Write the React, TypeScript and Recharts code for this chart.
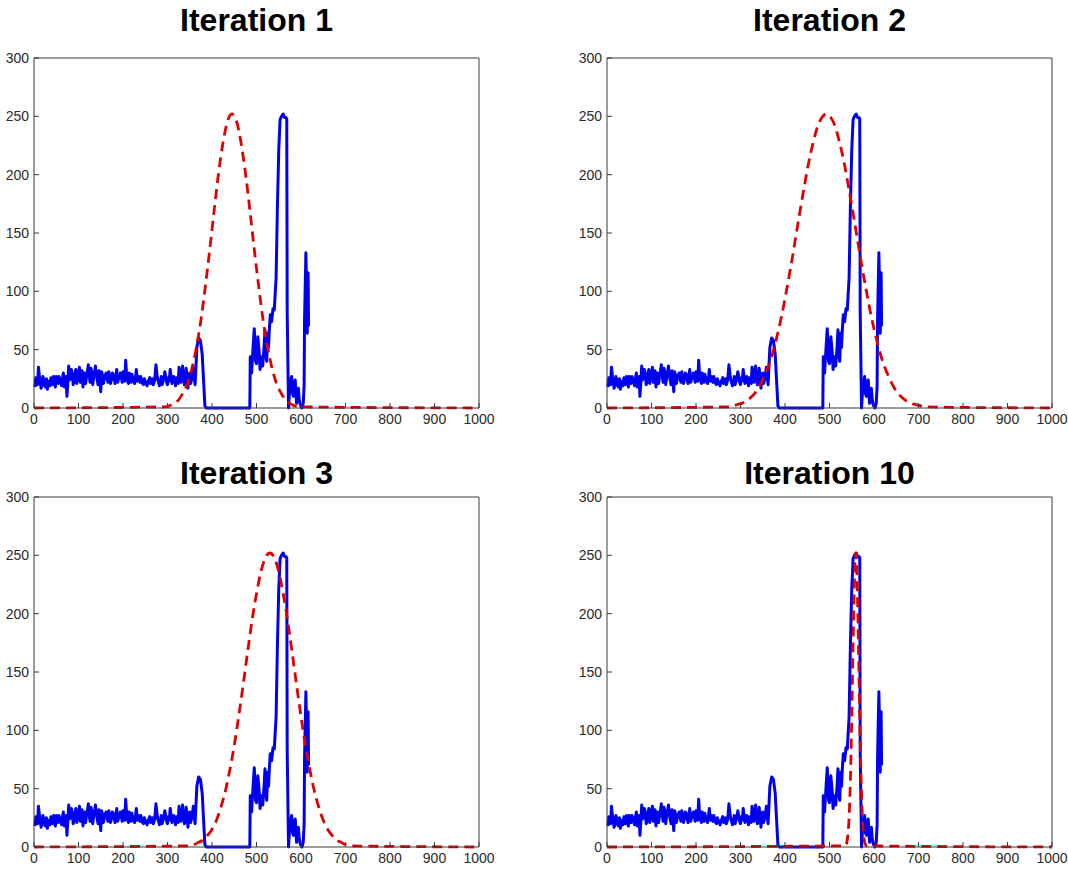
import { LineChart, Line, XAxis, YAxis } from "recharts";

// measured signal (same in every panel)
const blueX = [
  2, 4, 6, 8, 10, 12, 14, 16, 18, 20,
  22, 24, 26, 28, 30, 32, 34, 36, 38, 40,
  42, 44, 46, 48, 50, 52, 54, 56, 58, 60,
  62, 64, 66, 68, 70, 72, 74, 76, 78, 80,
  82, 84, 86, 88, 90, 92, 94, 96, 98, 100,
  102, 104, 106, 108, 110, 112, 114, 116, 118, 120,
  122, 124, 126, 128, 130, 132, 134, 136, 138, 140,
  142, 144, 146, 148, 150, 152, 154, 156, 158, 160,
  162, 164, 166, 168, 170, 172, 174, 176, 178, 180,
  182, 184, 186, 188, 190, 192, 194, 196, 198, 200,
  202, 204, 206, 208, 210, 212, 214, 216, 218, 220,
  222, 224, 226, 228, 230, 232, 234, 236, 238, 240,
  242, 244, 246, 248, 250, 252, 254, 256, 258, 260,
  262, 264, 266, 268, 270, 272, 274, 276, 278, 280,
  282, 284, 286, 288, 290, 292, 294, 296, 298, 300,
  302, 304, 306, 308, 310, 312, 314, 316, 318, 320,
  322, 324, 326, 328, 330, 332, 334, 336, 338, 340,
  342, 344, 346, 348, 350, 352, 354, 356, 358, 360,
  362,
  366, 370, 374, 378, 381, 384, 387, 485, 486, 489,
  492, 495, 498, 500, 503, 506, 508, 511, 514, 517,
  519, 521, 523, 525, 527, 529, 531, 534, 537, 540,
  542, 544, 547, 550, 553, 556, 560, 563, 566, 568,
  569, 572, 575, 579, 581, 583, 585, 587, 590, 592,
  594, 596, 598, 602, 605, 607, 608, 611, 613, 614,
  616, 617,
];
const blueY = [
  18, 26, 24, 20, 35, 28, 22, 17, 20, 27,
  24, 19, 18, 25, 16, 23, 22, 19, 26, 22,
  20, 27, 24, 18, 27, 23, 21, 27, 25, 22,
  19, 26, 30, 18, 22, 27, 10, 22, 36, 24,
  26, 33, 30, 20, 22, 28, 33, 21, 25, 29,
  35, 22, 28, 32, 18, 24, 30, 21, 27, 31,
  37, 28, 22, 34, 31, 20, 26, 30, 36, 29,
  24, 20, 32, 26, 14, 31, 28, 21, 25, 28,
  30, 26, 22, 31, 27, 21, 24, 30, 29, 26,
  21, 27, 33, 22, 25, 26, 30, 27, 22, 31,
  28, 23, 41, 29, 24, 21, 30, 26, 22, 29,
  25, 23, 21, 26, 33, 23, 27, 24, 22, 27,
  24, 21, 20, 25, 23, 21, 19, 22, 24, 26,
  21, 23, 25, 20, 22, 27, 37, 30, 24, 22,
  19, 23, 27, 20, 23, 26, 31, 27, 22, 20,
  26, 23, 33, 27, 21, 24, 27, 23, 19, 26,
  24, 21, 35, 27, 22, 28, 36, 25, 20, 23,
  34, 26, 17, 29, 30, 21, 24, 28, 35, 27,
  20,
  52, 60, 58, 46, 24, 2, 0, 0, 44, 30,
  50, 68, 40, 38, 61, 48, 33, 44, 36, 52,
  67, 47, 40, 64, 52, 68, 80, 74, 85, 84,
  98, 111, 173, 221, 247, 250, 252, 249, 249, 248,
  81, 0, 19, 27, 12, 10, 22, 24, 4, 10,
  17, 8, 3, 0, 4, 19, 76, 133, 90, 64,
  116, 70,
];

// fitted curves, one per iteration
const red1X = [0, 295, 305, 315, 325, 335, 345, 355, 365, 375, 385, 395, 405, 415, 425, 435, 445,
  455, 465, 475, 485, 495, 505, 515, 525, 535, 545, 555, 565, 575, 585, 595, 1000];
const red1Y = [0, 1, 2, 4, 7, 13, 21, 34, 52, 75, 104, 136, 170, 202, 228, 246, 252,
  246, 228, 202, 170, 136, 104, 75, 52, 34, 21, 13, 7, 4, 2, 1, 0];

const red2X = [0, 273, 283, 293, 303, 313, 323, 333, 343, 353, 363, 373, 383, 393, 403, 413, 423,
  433, 443, 453, 463, 473, 483, 493, 503, 513, 523, 533, 543, 553, 563, 573, 583, 593, 603,
  613, 623, 633, 643, 653, 663, 673, 683, 693, 703, 713, 1000];
const red2Y = [0, 1, 2, 3, 4, 6, 9, 13, 19, 27, 36, 48, 63, 80, 100, 121, 144,
  167, 189, 210, 227, 241, 249, 252, 249, 241, 227, 210, 189, 167, 144, 121, 100, 80, 63,
  48, 36, 27, 19, 13, 9, 6, 4, 3, 2, 1, 0];

const red3X = [0, 350, 360, 370, 380, 390, 400, 410, 420, 430, 440, 450, 460, 470, 480, 490, 500,
  510, 520, 530, 540, 550, 560, 570, 580, 590, 600, 610, 620, 630, 640, 650, 660, 670, 680,
  690, 700, 710, 1000];
const red3Y = [0, 1, 2, 4, 6, 10, 15, 23, 34, 48, 66, 87, 112, 139, 167, 194, 217,
  236, 248, 252, 248, 236, 217, 194, 167, 139, 112, 87, 66, 48, 34, 23, 15, 10, 6,
  4, 2, 1, 0];

const red4X = [0, 535, 537, 539, 541, 543, 545, 547, 549, 551, 553, 555, 557, 559,
  561, 563, 565, 567, 569, 571, 573, 575, 577, 579, 581, 583, 1000];
const red4Y = [0, 1, 2, 4, 9, 18, 34, 58, 91, 131, 175, 214, 242, 252,
  242, 214, 175, 131, 91, 58, 34, 18, 9, 4, 2, 1, 0];

const titles = ["Iteration 1", "Iteration 2", "Iteration 3", "Iteration 10"];
const xTicks = [0, 100, 200, 300, 400, 500, 600, 700, 800, 900, 1000];
const yTicks = [0, 50, 100, 150, 200, 250, 300];

const toPoints = (xs: number[], ys: number[]) => xs.map((x, i) => ({ x, y: ys[i] }));

const blue = toPoints(blueX, blueY);
const reds = [
  toPoints(red1X, red1Y),
  toPoints(red2X, red2Y),
  toPoints(red3X, red3Y),
  toPoints(red4X, red4Y),
];

const AXIS = "#3a3a3a";
const FONT = '"Liberation Sans", Arial, Helvetica, sans-serif';
const TICK_FONT = '"Liberation Sans Narrow", "Arial Narrow", "Liberation Sans", Arial, sans-serif';

function XTick({ x, y, payload }: any) {
  const base = y - 6;
  return (
    <g>
      <line x1={x} x2={x} y1={base} y2={base - 5} stroke={AXIS} />
      <text x={x} y={y} dy="0.71em" textAnchor="middle" fontSize={14} fill="#2a2a2a" fontFamily={TICK_FONT}>
        {payload.value}
      </text>
    </g>
  );
}

function YTick({ x, y, payload }: any) {
  const base = x + 5;
  return (
    <g>
      <line x1={base} x2={base + 5} y1={y} y2={y} stroke={AXIS} />
      <text x={x} y={y} dy="0.355em" textAnchor="end" fontSize={14} fill="#2a2a2a" fontFamily={TICK_FONT}>
        {payload.value}
      </text>
    </g>
  );
}

function Panel({ index }: { index: number }) {
  const col = index % 2;
  const row = Math.floor(index / 2);
  const left = col * 534;
  const top = row * 439;
  const margin = col === 0
    ? { top: 58, right: 55, bottom: 6, left: 4 }
    : { top: 58, right: 16, bottom: 6, left: 43 };
  const plotLeft = margin.left + 30;
  const plotRight = 534 - margin.right;
  return (
    <div style={{ position: "absolute", left, top, width: 534, height: 434 }}>
      <div
        style={{
          position: "absolute",
          left: plotLeft - 60,
          width: plotRight - plotLeft + 120,
          top: row === 0 ? 4 : 18,
          textAlign: "center",
          fontFamily: FONT,
          fontWeight: "bold",
          fontSize: 32,
          lineHeight: 1,
          color: "#000",
        }}
      >
        {titles[index]}
      </div>
      <LineChart width={534} height={434} margin={margin}>
        <XAxis
          xAxisId="bottom"
          dataKey="x"
          type="number"
          domain={[0, 1000]}
          ticks={xTicks}
          interval={0}
          height={20}
          tickSize={0}
          tickMargin={6}
          tickLine={false}
          axisLine={{ stroke: AXIS }}
          tick={<XTick />}
        />
        <XAxis
          xAxisId="top"
          orientation="top"
          mirror
          type="number"
          domain={[0, 1000]}
          ticks={xTicks}
          interval={0}
          tick={false}
          tickSize={5}
          tickLine={{ stroke: AXIS }}
          axisLine={{ stroke: AXIS }}
        />
        <YAxis
          yAxisId="left"
          type="number"
          domain={[0, 300]}
          ticks={yTicks}
          interval={0}
          width={30}
          tickSize={0}
          tickMargin={5}
          tickLine={false}
          axisLine={{ stroke: AXIS }}
          tick={<YTick />}
        />
        <YAxis
          yAxisId="right"
          orientation="right"
          mirror
          type="number"
          domain={[0, 300]}
          ticks={yTicks}
          interval={0}
          tick={false}
          tickSize={5}
          tickLine={{ stroke: AXIS }}
          axisLine={{ stroke: AXIS }}
        />
        <Line
          data={blue}
          dataKey="y"
          xAxisId="bottom"
          yAxisId="left"
          type="linear"
          stroke="#0000f0"
          strokeWidth={3}
          strokeLinejoin="round"
          dot={false}
          isAnimationActive={false}
        />
        <Line
          data={reds[index]}
          dataKey="y"
          xAxisId="bottom"
          yAxisId="left"
          type="monotone"
          stroke="#e00000"
          strokeWidth={2.8}
          strokeDasharray="10 6"
          dot={false}
          isAnimationActive={false}
        />
      </LineChart>
    </div>
  );
}

export default function App() {
  return (
    <div
      style={{
        position: "absolute",
        left: 0,
        top: 0,
        width: 1068,
        height: 871,
        background: "#fff",
        overflow: "hidden",
      }}
    >
      {[0, 1, 2, 3].map((i) => (
        <Panel key={i} index={i} />
      ))}
    </div>
  );
}
